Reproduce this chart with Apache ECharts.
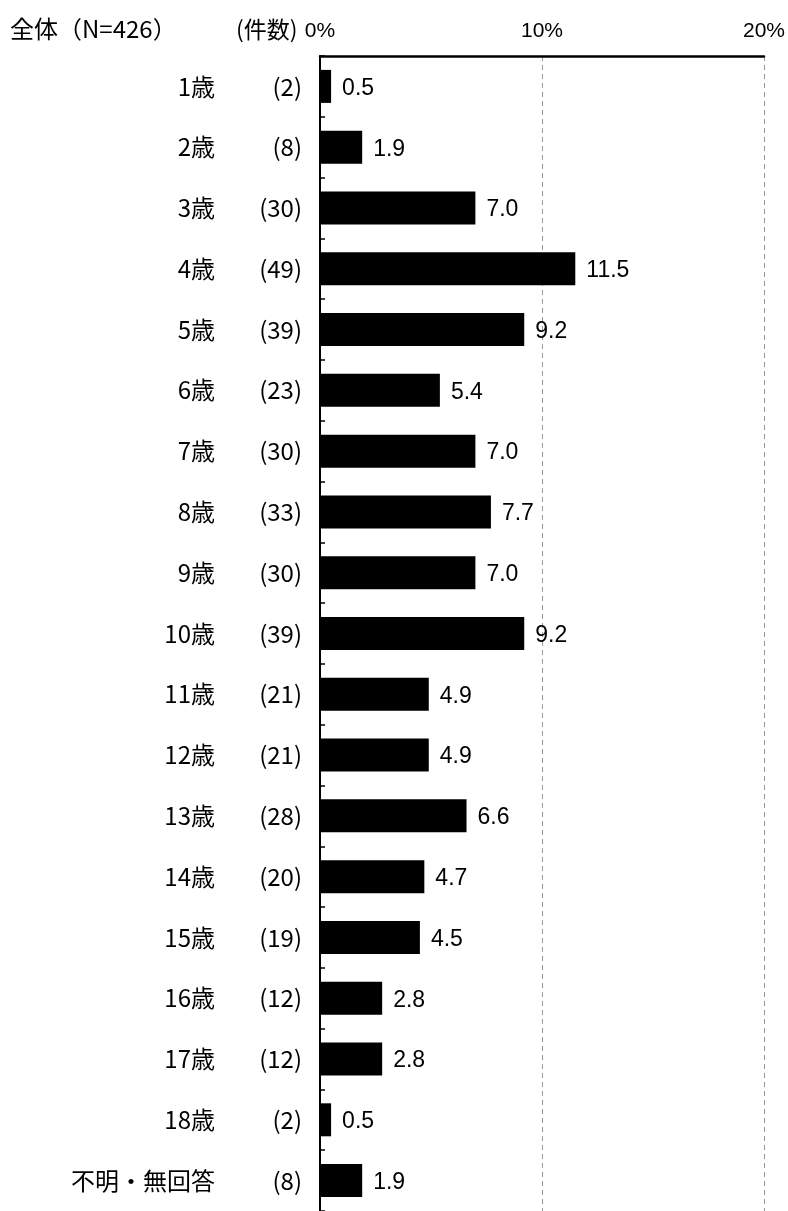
<!DOCTYPE html>
<html>
<head>
<meta charset="utf-8">
<script src="https://cdn.jsdelivr.net/npm/echarts@6/dist/echarts.min.js"></script>
<style>
html,body{margin:0;padding:0;background:#fff;}
#c{width:788px;height:1211px;}
</style>
</head>
<body>
<div id="c"></div>
<script>
const categories = ['1歳','2歳','3歳','4歳','5歳','6歳','7歳','8歳','9歳','10歳','11歳','12歳','13歳','14歳','15歳','16歳','17歳','18歳','不明・無回答'];
const counts = [2,8,30,49,39,23,30,33,30,39,21,21,28,20,19,12,12,2,8];
const percents = [0.5,1.9,7.0,11.5,9.2,5.4,7.0,7.7,7.0,9.2,4.9,4.9,6.6,4.7,4.5,2.8,2.8,0.5,1.9];
const xTicks = ['0%','10%','20%'];
const headerTitle = '全体（N=426）';
const headerCount = '(件数)';

const chart = echarts.init(document.getElementById('c'));
const jp = '"Noto Sans CJK JP", "Noto Sans", sans-serif';
chart.setOption({
  animation: false,
  backgroundColor: '#fff',
  graphic: [
    {type:'text', left: 10, top: 17, style:{text: headerTitle, font: '24px ' + jp, fill:'#000'}},
    {type:'text', left: 236, top: 18, style:{text: headerCount, font: '23px ' + jp, fill:'#000'}}
  ],
  grid: {left: 320, top: 56, width: 445.5, height: 1161, containLabel: false},
  xAxis: {
    type: 'value', position: 'top', min: 0, max: 20, interval: 10,
    axisLine: {show: true, lineStyle: {color: '#000', width: 2.5}},
    axisTick: {show: false},
    axisLabel: {
      margin: 14, color: '#000', fontSize: 21,
      fontFamily: '"Liberation Sans", Arial, sans-serif',
      formatter: function(v){ return xTicks[Math.round(v/10)]; }
    },
    splitLine: {show: true, lineStyle: {color: '#999', type: [5,4], width: 1}}
  },
  yAxis: {
    type: 'category', inverse: true, data: categories,
    axisLine: {show: true, lineStyle: {color: '#000', width: 2}},
    axisTick: {show: true, inside: true, length: 5, lineStyle: {color: '#000', width: 1.5}},
    axisLabel: {
      margin: 18,
      formatter: function(v, i){ return '{n|' + v + '}{c|(' + counts[i] + ')}'; },
      rich: {
        n: {fontSize: 24, fontFamily: jp, color: '#000'},
        c: {fontSize: 24, fontFamily: jp, color: '#000', width: 87, align: 'right'}
      }
    }
  },
  series: [{
    type: 'bar', data: percents, barWidth: 33,
    itemStyle: {color: '#000'},
    label: {
      show: true, position: 'right', distance: 11, offset: [0, 2],
      color: '#000', fontSize: 23,
      fontFamily: '"Liberation Sans", Arial, sans-serif',
      formatter: function(p){ return p.value.toFixed(1); }
    }
  }]
});
</script>
</body>
</html>
